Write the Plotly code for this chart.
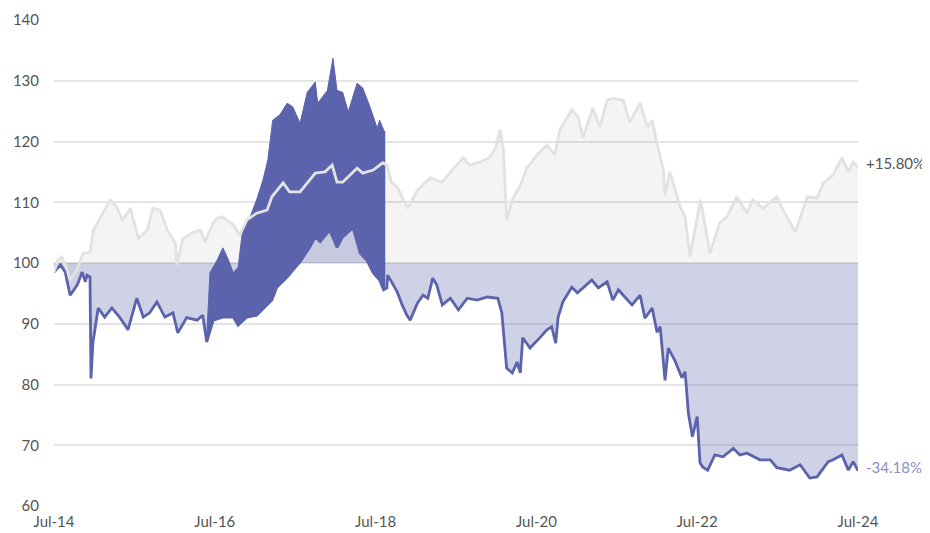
import pandas as pd
import plotly.graph_objects as go

# ---------------- data (decimal years, index values) ----------------
gray_t = [2014.50, 2014.55, 2014.60, 2014.66, 2014.70, 2014.79, 2014.86, 2014.95, 2014.99, 2015.11,
          2015.20, 2015.28, 2015.35, 2015.45, 2015.55, 2015.66, 2015.73, 2015.82, 2015.91, 2016.01,
          2016.03, 2016.10, 2016.23, 2016.32, 2016.38, 2016.44, 2016.48, 2016.53, 2016.59, 2016.73,
          2016.81, 2016.90, 2017.02, 2017.15, 2017.21, 2017.35, 2017.43, 2017.56, 2017.65, 2017.75,
          2017.87, 2017.96, 2018.02, 2018.09, 2018.27, 2018.34, 2018.47, 2018.59, 2018.64, 2018.70,
          2018.77, 2018.83, 2018.90, 2019.02, 2019.18, 2019.33, 2019.45, 2019.59, 2019.67, 2019.80,
          2019.92, 2019.99, 2020.05, 2020.09, 2020.13, 2020.20, 2020.30, 2020.38, 2020.51, 2020.63,
          2020.73, 2020.79, 2020.94, 2021.02, 2021.08, 2021.20, 2021.29, 2021.38, 2021.45, 2021.58,
          2021.66, 2021.79, 2021.88, 2021.94, 2022.00, 2022.08, 2022.10, 2022.16, 2022.22, 2022.29,
          2022.35, 2022.41, 2022.54, 2022.66, 2022.78, 2022.87, 2022.99, 2023.12, 2023.19, 2023.32,
          2023.49, 2023.57, 2023.72, 2023.87, 2023.99, 2024.07, 2024.19, 2024.30, 2024.38, 2024.44,
          2024.50]
gray_v = [98.5, 100.5, 101.0, 99.0, 97.2, 99.0, 101.6, 101.8, 105.4, 108.2,
          110.4, 109.2, 107.0, 109.0, 104.0, 105.4, 109.0, 108.7, 105.4, 103.3,
          99.7, 104.0, 105.0, 105.4, 103.5, 105.4, 106.6, 107.4, 107.6, 106.3,
          104.6, 107.1, 108.2, 108.7, 110.9, 113.2, 111.7, 111.7, 113.2, 114.8,
          115.0, 116.1, 113.3, 113.3, 115.6, 114.8, 115.3, 116.5, 116.1, 113.2,
          112.5, 110.9, 109.0, 112.0, 114.0, 113.3, 115.3, 117.3, 116.1, 116.6,
          117.4, 118.9, 121.9, 118.6, 107.0, 110.4, 112.8, 115.6, 117.8, 119.4,
          117.8, 121.9, 125.2, 124.0, 120.6, 125.5, 122.4, 126.8, 127.1, 126.8,
          123.2, 126.3, 122.4, 123.5, 119.7, 115.3, 111.2, 115.0, 112.5, 109.2,
          107.6, 101.0, 110.4, 101.6, 106.6, 107.6, 110.9, 108.2, 110.4, 109.0,
          110.9, 108.7, 105.1, 110.9, 110.7, 113.2, 114.5, 117.3, 115.0, 116.6,
          115.8]

blue_t = [2014.50, 2014.58, 2014.64, 2014.70, 2014.79, 2014.85, 2014.89, 2014.91, 2014.948, 2014.96,
          2014.985, 2015.05, 2015.13, 2015.22, 2015.32, 2015.42, 2015.53, 2015.61, 2015.69, 2015.78,
          2015.88, 2015.98, 2016.04, 2016.15, 2016.28, 2016.35, 2016.40,
          # lower edge of the volatile period
          2016.48, 2016.60, 2016.73, 2016.79, 2016.90, 2017.02, 2017.12, 2017.21, 2017.27, 2017.40,
          2017.50, 2017.56, 2017.68, 2017.75, 2017.81, 2017.93, 2018.02, 2018.09, 2018.22, 2018.31,
          2018.39, 2018.47, 2018.55, 2018.60,
          2018.64, 2018.65, 2018.72, 2018.77, 2018.83, 2018.89, 2018.93, 2019.02, 2019.09, 2019.15,
          2019.21, 2019.26, 2019.33, 2019.43, 2019.53, 2019.64, 2019.76, 2019.89, 2020.02, 2020.07,
          2020.13, 2020.20, 2020.26, 2020.30, 2020.33, 2020.42, 2020.55, 2020.63, 2020.69, 2020.74,
          2020.77, 2020.83, 2020.94, 2021.01, 2021.08, 2021.19, 2021.27, 2021.38, 2021.45, 2021.52,
          2021.58, 2021.69, 2021.79, 2021.85, 2021.94, 2022.00, 2022.04, 2022.10, 2022.14, 2022.22,
          2022.31, 2022.35, 2022.39, 2022.44, 2022.50, 2022.535, 2022.57, 2022.63, 2022.72, 2022.82,
          2022.95, 2023.03, 2023.12, 2023.28, 2023.41, 2023.49, 2023.65, 2023.78, 2023.90, 2023.99,
          2024.13, 2024.19, 2024.30, 2024.38, 2024.44, 2024.50]
blue_v = [98.5, 99.7, 98.5, 94.7, 96.4, 98.5, 96.9, 98.0, 97.7, 81.0,
          87.0, 92.6, 91.1, 92.6, 91.0, 89.0, 94.2, 91.1, 91.8, 93.6,
          91.1, 91.8, 88.5, 91.0, 90.6, 91.4, 87.0,
          90.6, 91.1, 91.1, 89.8, 91.1, 91.4, 92.8, 93.9, 96.0, 97.7,
          99.3, 100.2, 102.6, 104.3, 103.5, 105.4, 102.6, 104.3, 105.8, 101.6,
          100.5, 98.4, 97.2, 95.6,
          95.9, 98.0, 96.4, 95.2, 93.1, 91.4, 90.6, 93.4, 94.7, 94.2,
          97.5, 96.4, 93.1, 94.2, 92.3, 94.2, 93.9, 94.4, 94.2, 91.8,
          82.7, 81.9, 83.7, 81.9, 87.7, 86.0, 87.8, 89.0, 89.5, 86.8,
          91.1, 93.6, 96.0, 95.1, 95.9, 97.2, 95.9, 96.9, 93.9, 95.6,
          94.7, 93.1, 94.7, 90.9, 92.6, 88.6, 89.5, 80.7, 86.0, 84.0,
          81.1, 82.1, 75.3, 71.4, 74.7, 67.1, 66.4, 65.9, 68.4, 68.1,
          69.5, 68.4, 68.7, 67.6, 67.6, 66.3, 65.9, 66.8, 64.6, 64.8,
          67.3, 67.6, 68.4, 65.9, 67.3, 65.82]

# swings of the blue series during its volatile period (lower and upper envelope)
band_low_t = [2016.40, 2016.48, 2016.60, 2016.73, 2016.79, 2016.90, 2017.02, 2017.12, 2017.21, 2017.27,
              2017.40, 2017.50, 2017.56, 2017.68, 2017.75, 2017.81, 2017.93, 2018.02, 2018.09, 2018.22,
              2018.31, 2018.39, 2018.47, 2018.55, 2018.60, 2018.62]
band_low_v = [87.8, 90.6, 91.1, 91.1, 89.8, 91.1, 91.4, 92.8, 93.9, 96.0,
              97.7, 99.3, 100.2, 102.6, 104.3, 103.5, 105.4, 102.6, 104.3, 105.8,
              101.6, 100.5, 98.4, 97.2, 95.6, 96.0]
band_up_t = [2016.40, 2016.44, 2016.53, 2016.60, 2016.66, 2016.73, 2016.79, 2016.85, 2016.94, 2017.02,
             2017.10, 2017.16, 2017.22, 2017.31, 2017.40, 2017.47, 2017.56, 2017.65, 2017.75, 2017.78,
             2017.90, 2017.97, 2018.02, 2018.09, 2018.16, 2018.27, 2018.34, 2018.43, 2018.52, 2018.55,
             2018.60, 2018.62]
band_up_v = [88.0, 98.4, 100.5, 102.5, 100.8, 98.4, 99.3, 105.9, 107.6, 110.4,
             113.7, 117.0, 123.5, 124.4, 126.3, 125.7, 123.0, 128.1, 129.8, 126.3,
             128.4, 133.7, 128.4, 128.1, 124.9, 129.6, 128.8, 125.7, 122.2, 123.5,
             121.9, 121.5]

base_value = 100
y_ticks = [60, 70, 80, 90, 100, 110, 120, 130, 140]
x_tick_years = [2014.5, 2016.5, 2018.5, 2020.5, 2022.5, 2024.5]
x_tick_labels = ["Jul-14", "Jul-16", "Jul-18", "Jul-20", "Jul-22", "Jul-24"]
gray_label = "+15.80%"
blue_label = "-34.18%"

# ---------------- helpers ----------------
START = pd.Timestamp("2014-07-01")


def to_dates(ts):
    return [START + pd.Timedelta(days=(t - 2014.5) * 365.25) for t in ts]


BLUE = "#5b63ac"
LAV = "rgba(91,99,172,0.29)"
GRAY_LINE = "#e2e2e2"
GRAY_FILL = "rgba(0,0,0,0.045)"
FONT = "Lato"

gx = to_dates(gray_t)
bx = to_dates(blue_t)
end_x = [gx[0], gx[-1]]

fig = go.Figure()
# gray area to 100
fig.add_trace(go.Scatter(x=end_x, y=[base_value, base_value], mode="lines",
                         line=dict(width=0), hoverinfo="skip", showlegend=False))
fig.add_trace(go.Scatter(x=gx, y=gray_v, mode="lines", line=dict(width=0),
                         fill="tonexty", fillcolor=GRAY_FILL, showlegend=False))
# blue area to 100
fig.add_trace(go.Scatter(x=end_x, y=[base_value, base_value], mode="lines",
                         line=dict(width=0), hoverinfo="skip", showlegend=False))
fig.add_trace(go.Scatter(x=bx, y=blue_v, mode="lines", line=dict(width=2.8, color=BLUE),
                         fill="tonexty", fillcolor=LAV, showlegend=False))
# volatile band
fig.add_trace(go.Scatter(x=to_dates(band_low_t), y=band_low_v, mode="lines",
                         line=dict(width=1, color=BLUE), showlegend=False))
fig.add_trace(go.Scatter(x=to_dates(band_up_t), y=band_up_v, mode="lines",
                         line=dict(width=1, color=BLUE), fill="tonexty", fillcolor=BLUE,
                         showlegend=False))
# gray line on top
fig.add_trace(go.Scatter(x=gx, y=gray_v, mode="lines", line=dict(width=2.8, color=GRAY_LINE),
                         showlegend=False))

fig.add_annotation(x=gx[-1], y=gray_v[-1], text=gray_label, showarrow=False,
                   xanchor="left", xshift=6, yshift=4,
                   font=dict(family=FONT, size=15, color="#555555"))
fig.add_annotation(x=bx[-1], y=blue_v[-1], text=blue_label, showarrow=False,
                   xanchor="left", xshift=6, yshift=4,
                   font=dict(family=FONT, size=15, color="#8a90c6"))

# the page body adds an 8px offset, so margins are shifted to compensate
fig.update_layout(
    width=930, height=533,
    margin=dict(l=46, r=80, t=12, b=35),
    paper_bgcolor="white", plot_bgcolor="white",
    font=dict(family=FONT, size=15, color="#555555"),
    showlegend=False,
    xaxis=dict(type="date", range=[START, to_dates([2024.5])[0]],
               tickvals=to_dates(x_tick_years), ticktext=x_tick_labels,
               showgrid=False, zeroline=False, showline=False, ticks="",
               automargin=False, ticklabelstandoff=5,
               tickfont=dict(family=FONT, size=15, color="#555555")),
    yaxis=dict(range=[60, 140], tickvals=y_ticks, showgrid=True, gridcolor="#e4e4e4",
               gridwidth=1.5, zeroline=False, showline=False, ticks="",
               ticklabelstandoff=14, automargin=False,
               tickfont=dict(family=FONT, size=15, color="#555555")),
)

fig.write_html("out.html")
